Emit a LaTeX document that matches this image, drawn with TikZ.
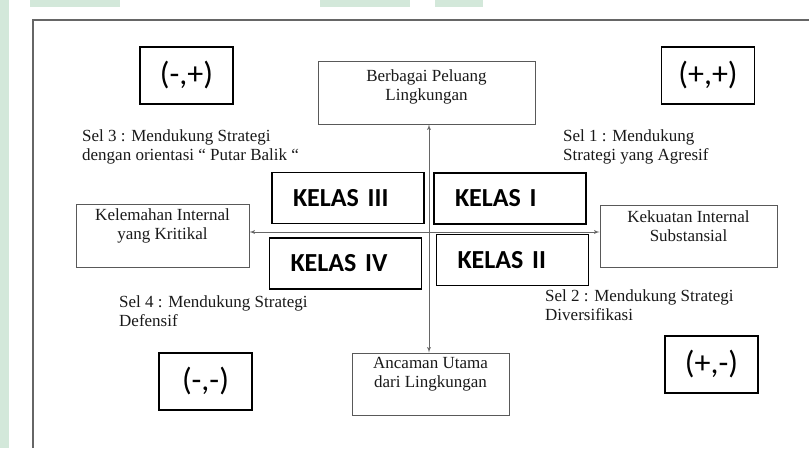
\documentclass[tikz,border=0pt]{standalone}
\usepackage{fontspec}
\setmainfont{Liberation Serif}
\newfontfamily\calibri{Carlito}
\usetikzlibrary{arrows,calc}
\definecolor{wmgreen}{HTML}{D3E8DA}
\tikzset{
  envbox/.style={draw=black!65, line width=0.9pt, minimum width=#1, minimum height=62pt, inner sep=0pt},
  envtext/.style={align=center, anchor=base, inner sep=0pt, text=black!90, font=\fontsize{17}{19}\selectfont},
  seltext/.style={align=left, anchor=base west, inner sep=0pt, text=black!90, font=\fontsize{17}{19}\selectfont},
  signbox/.style={draw, line width=1.6pt, minimum width=93pt, minimum height=57pt, inner sep=0pt, font=\calibri\fontsize{32}{38}\selectfont},
  kelasbox/.style={draw, line width=1.6pt, minimum height=51pt, text width=110pt, inner xsep=21pt, inner ysep=0pt, align=left, font=\calibri\bfseries\fontsize{26}{30}\selectfont},
  axisline/.style={draw=black!60, line width=0.9pt, latex'-latex'}
}
\begin{document}
\begin{tikzpicture}[x=1pt, y=-1pt]
    \useasboundingbox (0,0) rectangle (809,448);
    \fill[wmgreen] (0,0) rectangle (9,448);
    \fill[wmgreen] (0,0) rectangle (5,7);
    \fill[wmgreen] (30,0) rectangle (120,7);
    \fill[wmgreen] (320,0) rectangle (410,7);
    \fill[wmgreen] (435,0) rectangle (483,7);
    \draw[black!60, line width=1.1pt] (33,448) -- (33,20) -- (809,20);

    \node[signbox] (mp) at (186.5,75.5) {(-,+)};
    \node[signbox] (pp) at (708,75.5) {(+,+)};
    \node[signbox] (mm) at (205.5,381.5) {(-,-)};
    \node[signbox] (pm) at (711.5,364.5) {(+,-)};

    \node[envbox=217pt, minimum height=63pt] (peluang) at (426.5,92.5) {};
    \node[envbox=173pt, minimum height=63pt] (kelemahan) at (162.5,235.5) {};
    \node[envbox=177pt] (kekuatan) at (688.5,236) {};
    \node[envbox=157pt] (ancaman) at (430.5,384) {};
    \node[envtext] (peluangtxt) at ([yshift=-40pt]peluang.north) {Berbagai Peluang\\Lingkungan};
    \node[envtext] (kelemahantxt) at ([yshift=-36pt]kelemahan.north) {Kelemahan Internal\\yang Kritikal};
    \node[envtext] (kekuatantxt) at ([yshift=-37pt]kekuatan.north) {Kekuatan Internal\\Substansial};
    \node[envtext] (ancamantxt) at ([yshift=-35pt]ancaman.north) {Ancaman Utama\\dari Lingkungan};

    \node[kelasbox] (k3) at (348,198) {KELAS III};
    \node[kelasbox] (k1) at (510,198.5) {KELAS I};
    \node[kelasbox] (k4) at (345.5,263.5) {KELAS IV};
    \node[kelasbox] (k2) at (512.5,260) {KELAS II};

    \coordinate (origin) at (429,232);
    \draw[axisline] (peluang.south -| origin) -- (ancaman.north -| origin);
    \draw[axisline] (kelemahan.east |- origin) -- (kekuatan.west |- origin);

    \node[seltext] (sel3) at (82,160) {Sel 3 : Mendukung Strategi\\dengan orientasi `` Putar Balik ``};
    \node[seltext] (sel1) at (563,160) {Sel 1 : Mendukung\\Strategi yang Agresif};
    \node[seltext] (sel4) at (119,326) {Sel 4 : Mendukung Strategi\\Defensif};
    \node[seltext] (sel2) at (545,320) {Sel 2 : Mendukung Strategi\\Diversifikasi};
  \end{tikzpicture}
\end{document}
